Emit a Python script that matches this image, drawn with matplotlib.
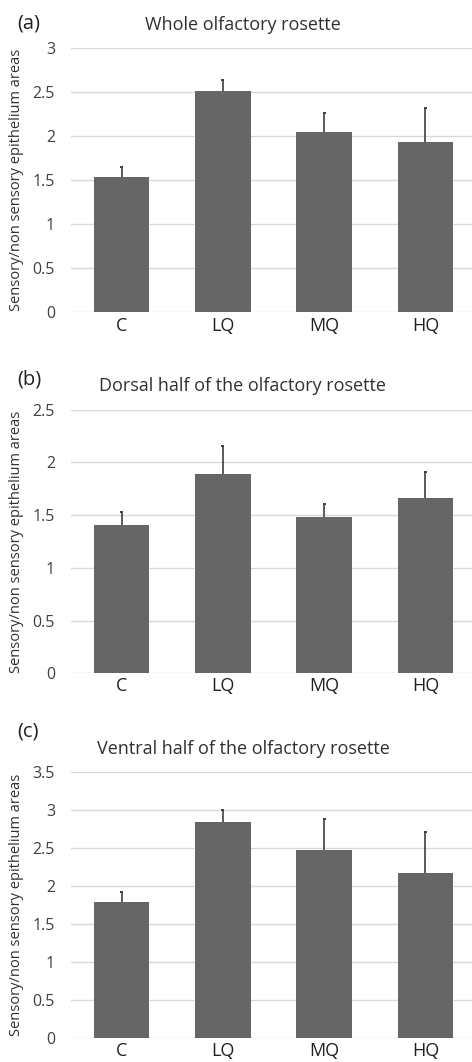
"""
Sensory / non-sensory epithelium area ratio per treatment group, three panels.
"""

import matplotlib
matplotlib.use("Agg")
import matplotlib.pyplot as plt

plt.rcParams["font.family"] = ["Open Sans", "DejaVu Sans"]

groups = ["C", "LQ", "MQ", "HQ"]

whole_mean = [1.53, 2.51, 2.04, 1.93]
whole_err = [0.12, 0.12, 0.22, 0.39]

dorsal_mean = [1.41, 1.89, 1.48, 1.66]
dorsal_err = [0.12, 0.27, 0.13, 0.25]

ventral_mean = [1.80, 2.84, 2.48, 2.17]
ventral_err = [0.13, 0.16, 0.41, 0.55]

panels = [
    ("(a)", "Whole olfactory rosette", whole_mean, whole_err, 3.0, 0.5),
    ("(b)", "Dorsal half of the olfactory rosette", dorsal_mean, dorsal_err, 2.5, 0.5),
    ("(c)", "Ventral half of the olfactory rosette", ventral_mean, ventral_err, 3.5, 0.5),
]

boxes = [
    (0.1504, 0.7059, 0.8496, 0.2492),
    (0.1504, 0.3660, 0.8496, 0.2482),
    (0.1504, 0.0223, 0.8496, 0.2505),
]
label_y = [24, 380, 732]
title_y = [25, 386, 749]

BAR = "#666666"
GRID = "#d9d9d9"
ERR = "#3f3f3f"

fig = plt.figure(figsize=(4.72, 10.62), dpi=100)

for (tag, title, mean, err, ymax, step), box, ly, ty in zip(panels, boxes, label_y, title_y):
    ax = fig.add_axes(box)
    x = list(range(len(groups)))
    ax.bar(x, mean, width=0.55, color=BAR, zorder=2)
    # upper-only error bars with a short cap
    tops = [m + e for m, e in zip(mean, err)]
    ax.vlines(x, mean, tops, color=ERR, linewidth=1.2, zorder=3)
    ax.hlines(tops, [i - 0.015 for i in x], [i + 0.015 for i in x], color=ERR, linewidth=1.4, zorder=3)
    ax.set_xlim(-0.5, 3.46)
    ax.set_ylim(0, ymax)
    ticks = [i * step for i in range(int(round(ymax / step)) + 1)]
    ax.set_yticks(ticks)
    ax.set_yticklabels([f"{t:g}" for t in ticks], fontsize=11.5, color="#404040")
    ax.set_xticks(x)
    ax.set_xticklabels(groups, fontsize=13, color="#202020")
    ax.tick_params(length=0, axis="y", pad=11.5)
    ax.tick_params(length=0, axis="x", pad=3)
    ax.grid(True, axis="y", color=GRID, linewidth=1.0, zorder=0)
    for s in ax.spines.values():
        s.set_visible(False)
    ax.set_ylabel("Sensory/non sensory epithelium areas", fontsize=10.5, color="#303030")
    ax.yaxis.set_label_coords(-0.117, 0.5)

    fig.text(17 / 472, 1 - ly / 1062, tag, fontsize=14.5, color="#202020", ha="left", va="center")
    fig.text(243 / 472, 1 - ty / 1062, title, fontsize=13, color="#303030", ha="center", va="center")

fig.savefig("out.png", dpi=100)
